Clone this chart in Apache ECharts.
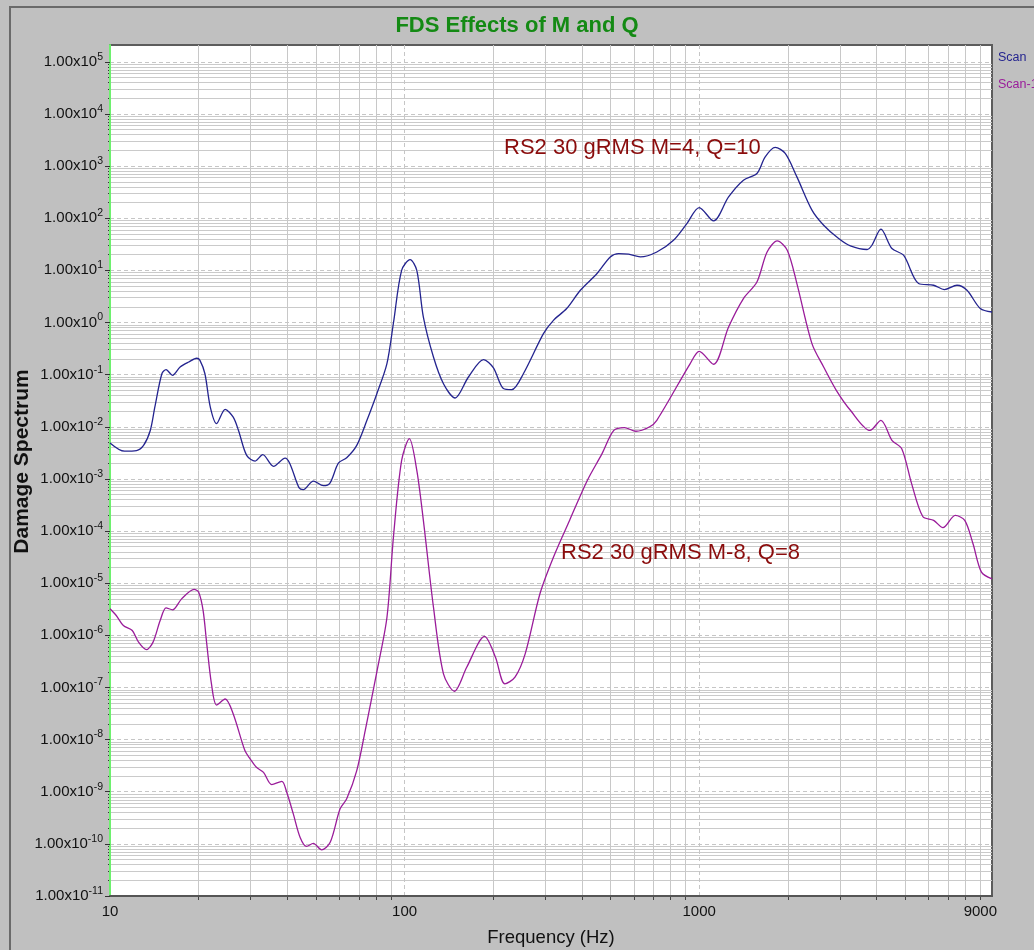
<!DOCTYPE html>
<html>
<head>
<meta charset="utf-8">
<title>FDS Effects of M and Q</title>
<script src="https://cdn.jsdelivr.net/npm/echarts@6/dist/echarts.min.js"></script>
<style>
  html, body { margin: 0; padding: 0; background: #c0c0c0; }
  #chart { width: 1034px; height: 950px; }
</style>
</head>
<body>
<div id="chart"></div>
<script>
// Fatigue damage spectrum, two scan results (frequency in Hz, damage value)
const scanFreq = [10, 11.2, 12.3, 13, 13.7, 14.2, 15, 15.5, 16.3, 17.3, 18.5, 19.7, 20.2, 21, 21.9, 23, 24.6, 26.2, 27.3, 29.1,
  31.1, 33, 35.9, 39.3, 40.8, 43.8, 45.3, 49, 53, 55.8, 59.6, 63.6, 68.8, 74.5, 80.5, 87.1, 91.7, 97.7, 104.4, 110,
  115.8, 125.3, 135.5, 148.4, 164.7, 185.4, 200, 216.5, 231, 253, 296, 320, 355, 395, 450, 499, 533, 576, 631, 718,
  818, 908, 1000, 1119, 1258, 1413, 1570, 1675, 1811, 1959, 2146, 2414, 2645, 2974, 3260, 3713, 3857, 4139, 4510, 4940,
  5556, 6250, 6795, 7500, 8110, 9000, 9860];
const scanDamage = [4.9e-3, 3.4e-3, 3.5e-3, 4.4e-3, 8.5e-3, 2.4e-2, 0.104, 0.125, 0.097, 0.14, 0.175, 0.206, 0.188, 0.104, 0.0239, 0.0115, 0.0216, 0.0153, 0.0085, 0.00282,
  0.0022, 0.00292, 0.00174, 0.0025, 0.00196, 6.8e-4, 6.2e-4, 9.1e-4, 7.4e-4, 8.3e-4, 2.0e-3, 2.55e-3, 4.4e-3, 0.0133, 0.043, 0.163, 1.0, 10.0, 16.1, 10.0,
  1.27, 0.218, 0.067, 0.0356, 0.09, 0.194, 0.136, 0.054, 0.0515, 0.104, 0.61, 1.1, 1.85, 4.15, 8.7, 18.1, 21.0, 20.4, 18.1, 22.5,
  37.8, 79, 160, 88.7, 256, 536, 721, 1500, 2275, 1750, 621, 143, 73.5, 40.7, 29.4, 25.1, 30.3, 61.5, 26.2, 19.5,
  5.58, 5.18, 4.28, 5.18, 4.15, 1.85, 1.59];

const scan1Freq = [10, 10.5, 11.1, 11.9, 12.5, 13.3, 14, 14.8, 15.5, 16.3, 17.5, 19.3, 20, 20.7, 21.3, 22.1, 23, 24.6, 26.2, 28.7,
  29.9, 31.4, 33.2, 35.4, 38.3, 39.8, 41.9, 44.2, 46.5, 49, 52.3, 55.9, 60.4, 63.6, 68.8, 73.5, 80.5, 87.1, 91.7, 97.7,
  103.8, 110, 115.8, 125.3, 135.5, 147.6, 162.5, 186.8, 203.4, 219, 237, 256.6, 288, 320, 363, 417, 468, 513, 558, 610,
  677, 718, 932, 1000, 1119, 1258, 1413, 1570, 1700, 1840, 1990, 2146, 2414, 2645, 2920, 3260, 3800, 4139, 4510, 4870,
  5260, 5740, 6250, 6720, 7400, 7970, 8500, 9080, 9860];
const scan1Damage = [3.23e-6, 2.4e-6, 1.54e-6, 1.24e-6, 7.4e-7, 5.3e-7, 7.4e-7, 1.92e-6, 3.37e-6, 3.08e-6, 5.0e-6, 7.6e-6, 6.7e-6, 3.0e-6, 6.9e-7, 1.17e-7, 4.6e-8, 6.0e-8, 3.1e-8, 6.15e-9,
  4.27e-9, 2.94e-9, 2.35e-9, 1.37e-9, 1.58e-9, 9.75e-10, 3.75e-10, 1.33e-10, 8.95e-11, 1.02e-10, 7.7e-11, 1.07e-10, 4.7e-10, 7.3e-10, 2.54e-9, 1.49e-8, 2.0e-7, 2.2e-6, 8e-5, 2.26e-3,
  5.9e-3, 1.46e-3, 1.6e-4, 3.46e-6, 1.82e-7, 8.45e-8, 2.44e-7, 9.5e-7, 3.8e-7, 1.17e-7, 1.57e-7, 4.4e-7, 6.27e-6, 3.15e-5, 1.6e-4, 9.35e-4, 3.05e-3, 8.5e-3, 9.6e-3, 8.2e-3,
  9.9e-3, 0.0133, 0.163, 0.28, 0.158, 0.82, 2.88, 5.98, 22.5, 36.6, 24.3, 5.58, 0.394, 0.14, 0.05, 0.0207, 8.5e-3, 0.0133, 5.5e-3, 3.8e-3,
  8.1e-4, 1.9e-4, 1.6e-4, 1.16e-4, 1.99e-4, 1.6e-4, 5.7e-5, 1.63e-5, 1.21e-5];

// Axis tick labels
const xTickLabels = [10, 100, 1000, 9000];
const xDecades = [10, 100, 1000];
const yExponents = [5, 4, 3, 2, 1, 0, -1, -2, -3, -4, -5, -6, -7, -8, -9, -10, -11];

const seriesNames = ['Scan', 'Scan-1'];
const annotations = ['RS2 30 gRMS M=4, Q=10', 'RS2 30 gRMS M-8, Q=8'];

// Minor (2..9) tick positions inside each decade
function minorsOf(decades) {
  const out = [];
  decades.forEach(d => { for (let k = 2; k <= 9; k++) out.push(d * k); });
  return out;
}
const yDecades = yExponents.map(e => Math.pow(10, e));
const xMinor = minorsOf(xDecades);
const yMinor = minorsOf(yDecades.filter(d => d < 1e5));

const X_MIN = 10, X_MAX = 9860, Y_MIN = 1e-11, Y_MAX = 2.1e5;
const FONT = 'Liberation Sans, Arial, sans-serif';

const pair = (xs, ys) => xs.map((x, i) => [x, ys[i]]);

const chart = echarts.init(document.getElementById('chart'), null, { renderer: 'canvas' });

const option = {
  backgroundColor: '#c0c0c0',
  animation: false,
  title: {
    text: 'FDS Effects of M and Q',
    left: 'center',
    top: 10,
    textStyle: { color: '#148a14', fontSize: 22, fontWeight: 'bold', fontFamily: FONT }
  },
  legend: {
    orient: 'vertical',
    left: 988,
    top: 46,
    itemWidth: 0,
    itemHeight: 0,
    itemGap: 14,
    icon: 'none',
    data: seriesNames,
    textStyle: { color: 'inherit', fontSize: 12.5, fontFamily: FONT }
  },
  grid: {
    left: 110, right: 42, top: 45, bottom: 54,
    outerBoundsMode: 'none',
    containLabel: false,
    show: true,
    backgroundColor: '#ffffff',
    borderColor: '#5c5c5c',
    borderWidth: 2
  },
  xAxis: [
    {
      type: 'log', logBase: 10, min: X_MIN, max: X_MAX,
      name: 'Frequency (Hz)', nameLocation: 'middle', nameGap: 32, nameMoveOverlap: false,
      nameTextStyle: { fontSize: 18.5, color: '#111', fontFamily: FONT },
      axisLine: { show: true, lineStyle: { color: '#555', width: 2 } },
      axisTick: { show: false, customValues: xDecades },
      axisLabel: {
        customValues: xTickLabels, margin: 8, fontSize: 15, color: '#111', fontFamily: FONT,
        formatter: v => String(Math.round(v))
      },
      splitLine: { show: true, lineStyle: { color: '#c6c6c6', type: [4, 3], width: 1 } },
      z: 3
    },
    {
      type: 'log', logBase: 10, min: X_MIN, max: X_MAX, position: 'bottom',
      axisLine: { show: false },
      axisTick: { show: true, customValues: xMinor, length: 4, lineStyle: { color: '#444' } },
      axisLabel: { show: false },
      splitLine: { show: true, lineStyle: { color: '#c8c8c8', width: 1 } }
    }
  ],
  yAxis: [
    {
      type: 'log', logBase: 10, min: Y_MIN, max: Y_MAX,
      name: 'Damage Spectrum', nameLocation: 'middle', nameGap: 77, nameMoveOverlap: false,
      nameTextStyle: { fontSize: 21, fontWeight: 'bold', color: '#111', fontFamily: FONT, padding: [0, 0, 0, 18] },
      axisLine: { show: true, lineStyle: { color: '#6ef06e', width: 2 } },
      axisTick: { show: true, customValues: yDecades, length: 5, lineStyle: { color: '#333' } },
      axisLabel: {
        customValues: yDecades, margin: 7, fontFamily: FONT,
        formatter: v => '{m|1.00x10}{e|' + Math.round(Math.log10(v)) + '}',
        rich: {
          m: { fontSize: 15, lineHeight: 21, color: '#111', fontFamily: FONT },
          e: { fontSize: 10.5, lineHeight: 10, verticalAlign: 'top', color: '#111', fontFamily: FONT }
        }
      },
      splitLine: { show: true, lineStyle: { color: '#c6c6c6', type: [4, 3], width: 1 } },
      z: 3
    },
    {
      type: 'log', logBase: 10, min: Y_MIN, max: Y_MAX, position: 'left',
      axisLine: { show: false },
      axisTick: { show: true, customValues: yMinor, length: 2, lineStyle: { color: '#333' } },
      axisLabel: { show: false },
      splitLine: { show: true, lineStyle: { color: '#cacaca', width: 1 } }
    }
  ],
  graphic: [
    {
      type: 'rect', silent: true, z: 100,
      shape: { x: 10, y: 7, width: 1100, height: 1000 },
      style: { fill: 'none', stroke: '#6a6a6a', lineWidth: 2 }
    },
    {
      type: 'text', left: 504, top: 137, z: 100,
      style: { text: annotations[0], fontSize: 22, fill: '#8a0c0c', fontFamily: FONT }
    },
    {
      type: 'text', left: 561, top: 542, z: 100,
      style: { text: annotations[1], fontSize: 22, fill: '#8a0c0c', fontFamily: FONT }
    }
  ],
  series: [
    {
      name: seriesNames[0], type: 'line', xAxisIndex: 0, yAxisIndex: 0,
      data: pair(scanFreq, scanDamage),
      showSymbol: false, smooth: 0.3, clip: true,
      lineStyle: { color: '#24248f', width: 1.3 },
      itemStyle: { color: '#24248f' },
      z: 5
    },
    {
      name: seriesNames[1], type: 'line', xAxisIndex: 0, yAxisIndex: 0,
      data: pair(scan1Freq, scan1Damage),
      showSymbol: false, smooth: 0.3, clip: true,
      lineStyle: { color: '#9a1c9a', width: 1.3 },
      itemStyle: { color: '#9a1c9a' },
      z: 5
    }
  ]
};

chart.setOption(option);
</script>
</body>
</html>
